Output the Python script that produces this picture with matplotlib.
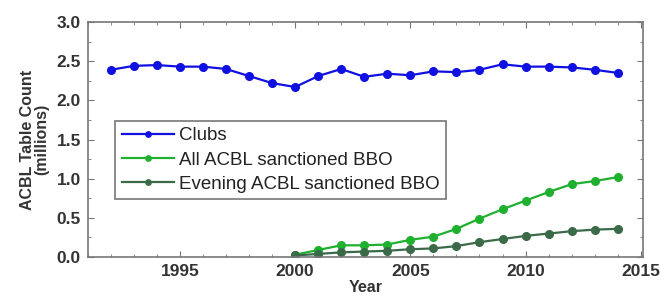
import matplotlib
matplotlib.use("Agg")
import matplotlib.pyplot as plt
from matplotlib.ticker import MultipleLocator

plt.rcParams["font.family"] = ["Liberation Sans", "DejaVu Sans"]

# data
club_years = list(range(1992, 2015))
clubs = [2.39, 2.44, 2.45, 2.43, 2.43, 2.40, 2.31, 2.22, 2.17, 2.31, 2.40,
         2.30, 2.34, 2.32, 2.37, 2.36, 2.39, 2.46, 2.43, 2.43, 2.42, 2.39, 2.35]
bbo_years = list(range(2000, 2015))
bbo_all = [0.03, 0.09, 0.15, 0.15, 0.16, 0.22, 0.26, 0.36, 0.49, 0.61,
           0.72, 0.83, 0.93, 0.97, 1.02]
bbo_evening = [0.02, 0.04, 0.06, 0.07, 0.08, 0.10, 0.11, 0.14, 0.19, 0.23,
               0.27, 0.30, 0.33, 0.35, 0.36]

BLUE = "#1010e0"
GREEN = "#20b030"
DKGREEN = "#3a6a48"
AXIS = "#777777"
TXT = "#333333"

fig = plt.figure(figsize=(6.65, 3.01), dpi=100, facecolor="white")
ax = fig.add_axes([0.132, 0.146, 0.835, 0.781])

ax.plot(club_years, clubs, "-o", color=BLUE, lw=1.6, ms=5.5, label="Clubs")
ax.plot(bbo_years, bbo_all, "-o", color=GREEN, lw=1.6, ms=5.5,
        label="All ACBL sanctioned BBO")
ax.plot(bbo_years, bbo_evening, "-o", color=DKGREEN, lw=1.6, ms=5.5,
        label="Evening ACBL sanctioned BBO")

ax.set_xlim(1991, 2015.1)
ax.set_ylim(0, 3.0)
ax.xaxis.set_major_locator(MultipleLocator(5))
ax.xaxis.set_minor_locator(MultipleLocator(1))
ax.yaxis.set_major_locator(MultipleLocator(0.5))
ax.yaxis.set_minor_locator(MultipleLocator(0.25))
ax.tick_params(which="both", direction="in", top=True, right=True,
               color=AXIS, labelsize=12.5, labelcolor=TXT)
ax.tick_params(which="major", length=4)
ax.tick_params(which="minor", length=2)
ax.tick_params(axis="x", pad=5)
ax.tick_params(axis="y", pad=5)
for sp in ax.spines.values():
    sp.set_color(AXIS)
    sp.set_linewidth(1.2)
for lbl in ax.get_xticklabels() + ax.get_yticklabels():
    lbl.set_fontweight("bold")

ax.set_xlabel("Year", fontsize=11.5, fontweight="bold", color=TXT, labelpad=1)
ax.set_ylabel("ACBL Table Count\n(millions)", fontsize=11.5, fontweight="bold",
              color=TXT, linespacing=1.0, labelpad=5)

leg = ax.legend(loc="lower left", bbox_to_anchor=(0.049, 0.245), fontsize=13.5,
                frameon=True, fancybox=False, edgecolor="#555555",
                handlelength=2.8, handletextpad=0.25, borderpad=0.35,
                labelspacing=0.38, markerscale=0.7, borderaxespad=0)
leg.get_frame().set_linewidth(1.2)
for t in leg.get_texts():
    t.set_color("#222222")

fig.savefig("out.png", dpi=100, facecolor="white")
